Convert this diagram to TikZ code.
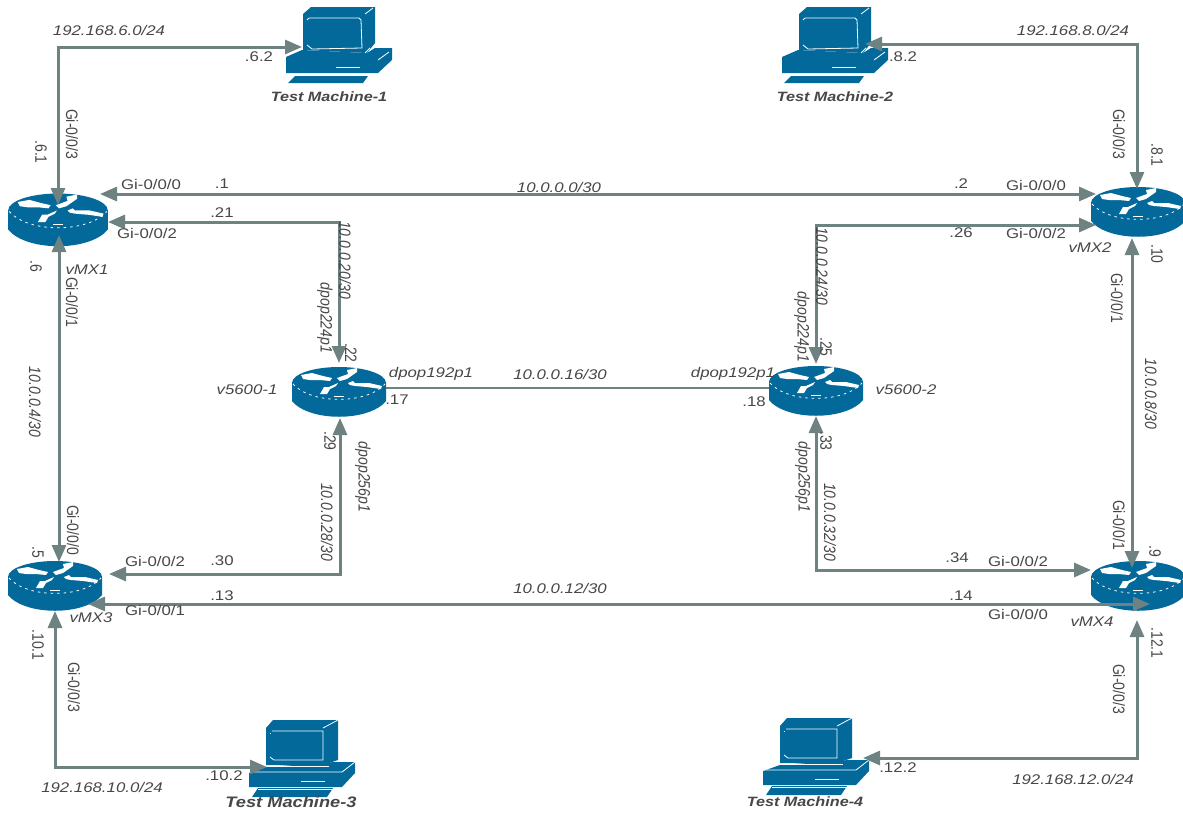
\documentclass[tikz,border=0pt]{standalone}
\usepackage{fontspec}
\setmainfont[FakeStretch=1.2]{Liberation Sans}
\newfontfamily\vfam[FakeStretch=0.85]{Liberation Sans}
\usetikzlibrary{arrows.meta}
\definecolor{cisco}{HTML}{03699B}
\definecolor{linkc}{HTML}{6E8381}
\definecolor{txt}{HTML}{474747}
\tikzset{
  hlab/.style={text=txt,inner sep=0pt,font=\fontsize{14}{14}\selectfont},
  hit/.style={hlab,font=\fontsize{14}{14}\selectfont\itshape},
  vlab/.style={text=txt,inner sep=0pt,rotate=-90,font=\vfam\fontsize{16.5}{16}\selectfont},
  vit/.style={vlab,font=\vfam\fontsize{16.5}{16}\selectfont\itshape},
  tmlab/.style={hlab,font=\fontsize{13.5}{14}\selectfont\itshape\bfseries},
  devbox/.style={inner sep=0pt,outer sep=0pt},
  link/.style={draw=linkc,line width=3pt,{Triangle[length=17pt,width=14pt]}-{Triangle[length=17pt,width=14pt]}},
  plainlink/.style={draw=linkc,line width=2pt},
  wl/.style={draw=white,line width=0.8pt},
  router/.pic={
    \fill[cisco] (-47,-9) -- (-47,9) .. controls (-30,30) and (30,30) .. (47,9) -- (47,-9) -- cycle;
    \fill[cisco] (0,-9) ellipse [x radius=47pt,y radius=16pt];
    \fill[white] (-38,-17) -- (-27,-19) -- (-16,-16) -- (-7,-14) -- (-9,-11) -- (-19,-12) -- (-29,-12) -- (-36,-13) -- cycle;
    \fill[white] (-2,-14) -- (9,-18) -- (8,-22) -- (18,-24) -- (18,-20) -- (8,-13) -- (1,-11) -- cycle;
    \fill[white] (-19,2) -- (-15,-5) -- (-10,-5) -- (-1,-9) -- (-3,-6) -- (-9,-3) -- (-12,2) -- cycle;
    \fill[white] (9,-9) -- (14,-11) -- (16,-9) -- (30,-9) -- (43,-6) -- (42,-3) -- (28,-5) -- (16,-6) -- (11,-7) -- cycle;
    \draw[wl,dash pattern=on 2.5pt off 4pt] (-46,-8) .. controls (-28,12.5) and (28,12.5) .. (46,-8);
    \draw[wl,line width=1pt] (-5,4) -- (5,4);
  },
  pcone/.pic={
    \fill[cisco] (-53,12) -- (-37,5) -- (28,8) -- (36,3) -- (53,3) -- (53,15) -- (39,28) -- (-53,28) -- cycle;
    \fill[cisco] (-36,-31) -- (-28,-38) -- (36,-38) -- (36,-2) -- (28,8) -- (-36,5) -- cycle;
    \fill[cisco] (-51,38) -- (-44,31) -- (29,31) -- (24,38) -- cycle;
    \draw[wl] (-30,-27) -- (20,-27) -- (22,-25) -- (23,3) -- (-27,4) -- (-32,0);
    \draw[wl] (-32,-25) -- (-30,-27);
    \draw[wl] (26,-31) -- (34,-37);
    \draw[wl] (26,8) -- (31,3);
    \draw[wl] (39,15) -- (50,7);
    \draw[wl] (-3,22) -- (21,22);
    \draw[wl] (-51,30) -- (29,30);
  },
  pctwo/.pic={
    \fill[cisco] (-53,13) -- (-36,7) -- (33,2) -- (53,2) -- (53,13) -- (40,27) -- (-53,27) -- cycle;
    \fill[cisco] (-36,-32) -- (-29,-40) -- (36,-40) -- (36,0) -- (21,5) -- (-36,5) -- cycle;
    \fill[cisco] (-50,37) -- (-44,28) -- (31,28) -- (25,37) -- cycle;
    \draw[wl] (-30,-29) -- (21,-29) -- (21,0) -- (-28,0) -- (-32,-3);
    \draw[wl] (-32,-27) -- (-32,-26);
    \draw[wl] (21,-32) -- (36,-40);
    \draw[wl] (-36,6) -- (27,6);
    \draw[wl] (-53,12) -- (40,12) -- (53,2);
    \draw[wl] (-1,21) -- (23,21);
    \draw[wl] (-44,29) -- (31,29);
  }
}
\begin{document}
\begin{tikzpicture}[x=1pt,y=-1pt]
\useasboundingbox (0,0) rectangle (1183,814);
% devices
\node[devbox,minimum width=100pt,minimum height=54pt] (vmx1) at (58,220) {};
\node[devbox,minimum width=94pt,minimum height=50pt] (vmx2) at (1138,212) {};
\node[devbox,minimum width=94pt,minimum height=50pt] (vmx3) at (55,586) {};
\node[devbox,minimum width=94pt,minimum height=50pt] (vmx4) at (1138,586) {};
\node[devbox,minimum width=94pt,minimum height=50pt] (vs1) at (339,392) {};
\node[devbox,minimum width=94pt,minimum height=50pt] (vs2) at (816,391) {};
\node[devbox,minimum width=106pt,minimum height=76pt] (tm1) at (339,45) {};
\node[devbox,minimum width=106pt,minimum height=76pt] (tm2) at (835,45) {};
\node[devbox,minimum width=106pt,minimum height=76pt] (tm3) at (302,760) {};
\node[devbox,minimum width=106pt,minimum height=76pt] (tm4) at (816,758) {};
\pic[scale=1.06] at (vmx1) {router};
\pic at (vmx2) {router};
\pic at (vmx3) {router};
\pic at (vmx4) {router};
\pic at (vs1) {router};
\pic at (vs2) {router};
\pic at (tm1) {pcone};
\pic at (tm2) {pcone};
\pic at (tm3) {pctwo};
\pic at (tm4) {pctwo};
% connectors
\draw[link] ([yshift=-12pt]vmx1.north) -- ++(0,-158) -- ([yshift=-2pt,xshift=16pt]tm1.west);
\draw[link] ([yshift=26pt,xshift=-8pt]vmx1.east) -- ([yshift=18pt,xshift=5pt]vmx2.west);
\draw[link] ([yshift=-2pt]vmx1.east) -- (339,222) -- ([yshift=4pt]vs1.north);
\draw[link] ([yshift=12pt,xshift=1pt]vmx1.south) -- ([yshift=-1pt,xshift=4pt]vmx3.north);
\draw[plainlink] ([yshift=4pt]vs1.east) -- ([yshift=3pt]vs2.west);
\draw[link] ([yshift=-1pt,xshift=1pt]vs1.south) -- (340,574) -- ([yshift=12pt,xshift=7pt]vmx3.east);
\draw[link] ([yshift=-18pt,xshift=-14pt]vmx3.east) -- ([yshift=-18pt,xshift=12pt]vmx4.center);
\draw[link] (vmx3.south) -- (55,767) -- ([yshift=-7pt,xshift=18pt]tm3.west);
\draw[link] ([yshift=-2pt,xshift=-1pt]vmx2.north) -- (1137,44) -- ([yshift=1pt,xshift=-23pt]tm2.east);
\draw[link] ([yshift=-13pt,xshift=5pt]vmx2.west) -- (816,225) -- ([yshift=2pt]vs2.north);
\draw[link] ([yshift=-1pt,xshift=-6pt]vmx2.south) -- ([yshift=-7pt,xshift=-6pt]vmx4.north);
\draw[link] (vs2.south) -- (816,570) -- ([yshift=16pt]vmx4.west);
\draw[link] ([yshift=-9pt,xshift=-1pt]vmx4.south) -- (1137,758) -- ([xshift=-6pt]tm4.east);
% device names
\node[tmlab] (ntm1) at (329,97) {Test Machine-1};
\node[tmlab] (ntm2) at (835,97) {Test Machine-2};
\node[tmlab,font=\fontsize{15.2}{15}\selectfont\itshape\bfseries] (ntm3) at (291,802) {Test Machine-3};
\node[tmlab] (ntm4) at (805,802) {Test Machine-4};
\node[hit] (nvmx1) at (87,270) {vMX1};
\node[hit] (nvmx2) at (1090,248) {vMX2};
\node[hit] (nvmx3) at (91,618) {vMX3};
\node[hit] (nvmx4) at (1092,622) {vMX4};
\node[hit] (nvs1) at (247,390) {v5600-1};
\node[hit] (nvs2) at (906,390) {v5600-2};
% subnets
\node[hit] (s1) at (109,30) {192.168.6.0/24};
\node[hit] (s2) at (1073,30) {192.168.8.0/24};
\node[hit] (s3) at (102,787) {192.168.10.0/24};
\node[hit] (s4) at (1073,779) {192.168.12.0/24};
\node[hit] (s5) at (559,187) {10.0.0.0/30};
\node[hit] (s6) at (560,374) {10.0.0.16/30};
\node[hit] (s7) at (560,588) {10.0.0.12/30};
\node[vit] (s8) at (345,260) {10.0.0.20/30};
\node[vit] (s9) at (822,266) {10.0.0.24/30};
\node[vit] (s10) at (35,402) {10.0.0.4/30};
\node[vit] (s11) at (1151,394) {10.0.0.8/30};
\node[vit] (s12) at (327,522) {10.0.0.28/30};
\node[vit] (s13) at (830,522) {10.0.0.32/30};
% interfaces, horizontal
\node[hlab] (h1) at (151,184) {Gi-0/0/0};
\node[hlab] (h2) at (222,184) {.1};
\node[hlab] (h3) at (961,184) {.2};
\node[hlab] (h4) at (1036,185) {Gi-0/0/0};
\node[hlab] (h5) at (222,213) {.21};
\node[hlab] (h6) at (147,233) {Gi-0/0/2};
\node[hlab] (h7) at (259,57) {.6.2};
\node[hlab] (h8) at (903,57) {.8.2};
\node[hlab] (h9) at (1036,233) {Gi-0/0/2};
\node[hlab] (h10) at (961,233) {.26};
\node[hlab] (h11) at (957,558) {.34};
\node[hlab] (h12) at (1018,561) {Gi-0/0/2};
\node[hlab] (h13) at (961,596) {.14};
\node[hlab] (h14) at (1018,614) {Gi-0/0/0};
\node[hlab] (h15) at (898,768) {.12.2};
\node[hlab] (h16) at (397,400) {.17};
\node[hlab] (h17) at (754,402) {.18};
\node[hlab] (h18) at (155,561) {Gi-0/0/2};
\node[hlab] (h19) at (222,561) {.30};
\node[hlab] (h20) at (222,596) {.13};
\node[hlab] (h21) at (155,610) {Gi-0/0/1};
\node[hlab] (h22) at (224,776) {.10.2};
\node[hit] (h23) at (431,374) {dpop192p1};
\node[hit] (h24) at (733,374) {dpop192p1};
% interfaces, rotated
\node[vlab] (v1) at (72,134) {Gi-0/0/3};
\node[vlab] (v2) at (41,152) {.6.1};
\node[vlab] (v3) at (36,266) {.6};
\node[vlab] (v4) at (72,302) {Gi-0/0/1};
\node[vlab] (v5) at (1119,134) {Gi-0/0/3};
\node[vlab] (v6) at (1157,155) {.8.1};
\node[vlab] (v7) at (1157,254) {.10};
\node[vlab] (v8) at (1117,298) {Gi-0/0/1};
\node[vlab] (v9) at (1119,525) {Gi-0/0/1};
\node[vlab] (v10) at (1155,551) {.9};
\node[vlab] (v11) at (1157,643) {.12.1};
\node[vlab] (v12) at (1119,689) {Gi-0/0/3};
\node[vlab] (v13) at (351,353) {.22};
\node[vlab] (v14) at (826,347) {.25};
\node[vlab] (v15) at (330,441) {.29};
\node[vlab] (v16) at (826,441) {.33};
\node[vlab] (v17) at (73,530) {Gi-0/0/0};
\node[vlab] (v18) at (38,552) {.5};
\node[vlab] (v19) at (38,645) {.10.1};
\node[vlab] (v20) at (74,687) {Gi-0/0/3};
\node[vit] (v21) at (325,318) {dpop224p1};
\node[vit] (v22) at (802,327) {dpop224p1};
\node[vit] (v23) at (363,477) {dpop256p1};
\node[vit] (v24) at (803,477) {dpop256p1};
\end{tikzpicture}
\end{document}
